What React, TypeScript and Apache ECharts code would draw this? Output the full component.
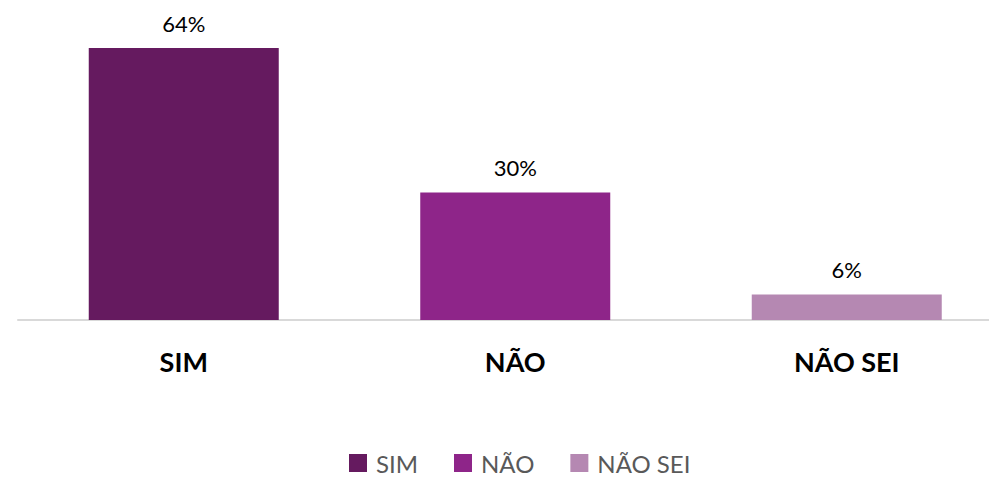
import React, { useEffect, useRef } from "react";
import * as echarts from "echarts";

const categories = ["SIM", "NÃO", "NÃO SEI"];
const seriesNames = ["SIM", "NÃO", "NÃO SEI"];
const values = [64, 30, 6];
const colors = ["#651A5F", "#8E2589", "#B588B2"];

export default function App() {
  const ref = useRef<HTMLDivElement>(null);
  useEffect(() => {
    if (!ref.current) return;
    const chart = echarts.init(ref.current, null, { renderer: "svg" });
    const font = "Lato, 'Open Sans', sans-serif";
    chart.setOption({
      animation: false,
      grid: { left: 18, top: 22.5, width: 994.5, bottom: 158, containLabel: false, outerBoundsMode: "none" },
      legend: {
        data: seriesNames,
        top: 451,
        left: 349,
        padding: 0,
        itemWidth: 18,
        itemHeight: 18,
        itemGap: 36,
        icon: "rect",
        textStyle: { fontFamily: font, fontSize: 24, lineHeight: 22, color: "#595959", padding: [0, 0, 0, 4] },
      },
      xAxis: {
        type: "category",
        data: categories,
        axisLine: { lineStyle: { color: "#D9D9D9", width: 2 } },
        axisTick: { show: false },
        axisLabel: { margin: 28, fontFamily: font, fontSize: 27, fontWeight: "bold", color: "#000" },
      },
      yAxis: { type: "value", min: 0, max: 70, show: false, splitLine: { show: false } },
      series: seriesNames.map((name, i) => ({
        name,
        type: "bar",
        stack: "all",
        barWidth: 190,
        itemStyle: { color: colors[i] },
        label: {
          show: true,
          position: "top",
          distance: 14,
          formatter: "{c}%",
          fontFamily: font,
          fontSize: 22,
          color: "#000",
        },
        data: categories.map((_, j) => (j === i ? values[i] : null)),
      })),
    });
    return () => chart.dispose();
  }, []);
  return <div ref={ref} style={{ width: 989, height: 478, position: "absolute", left: 0, top: 0 }} />;
}
